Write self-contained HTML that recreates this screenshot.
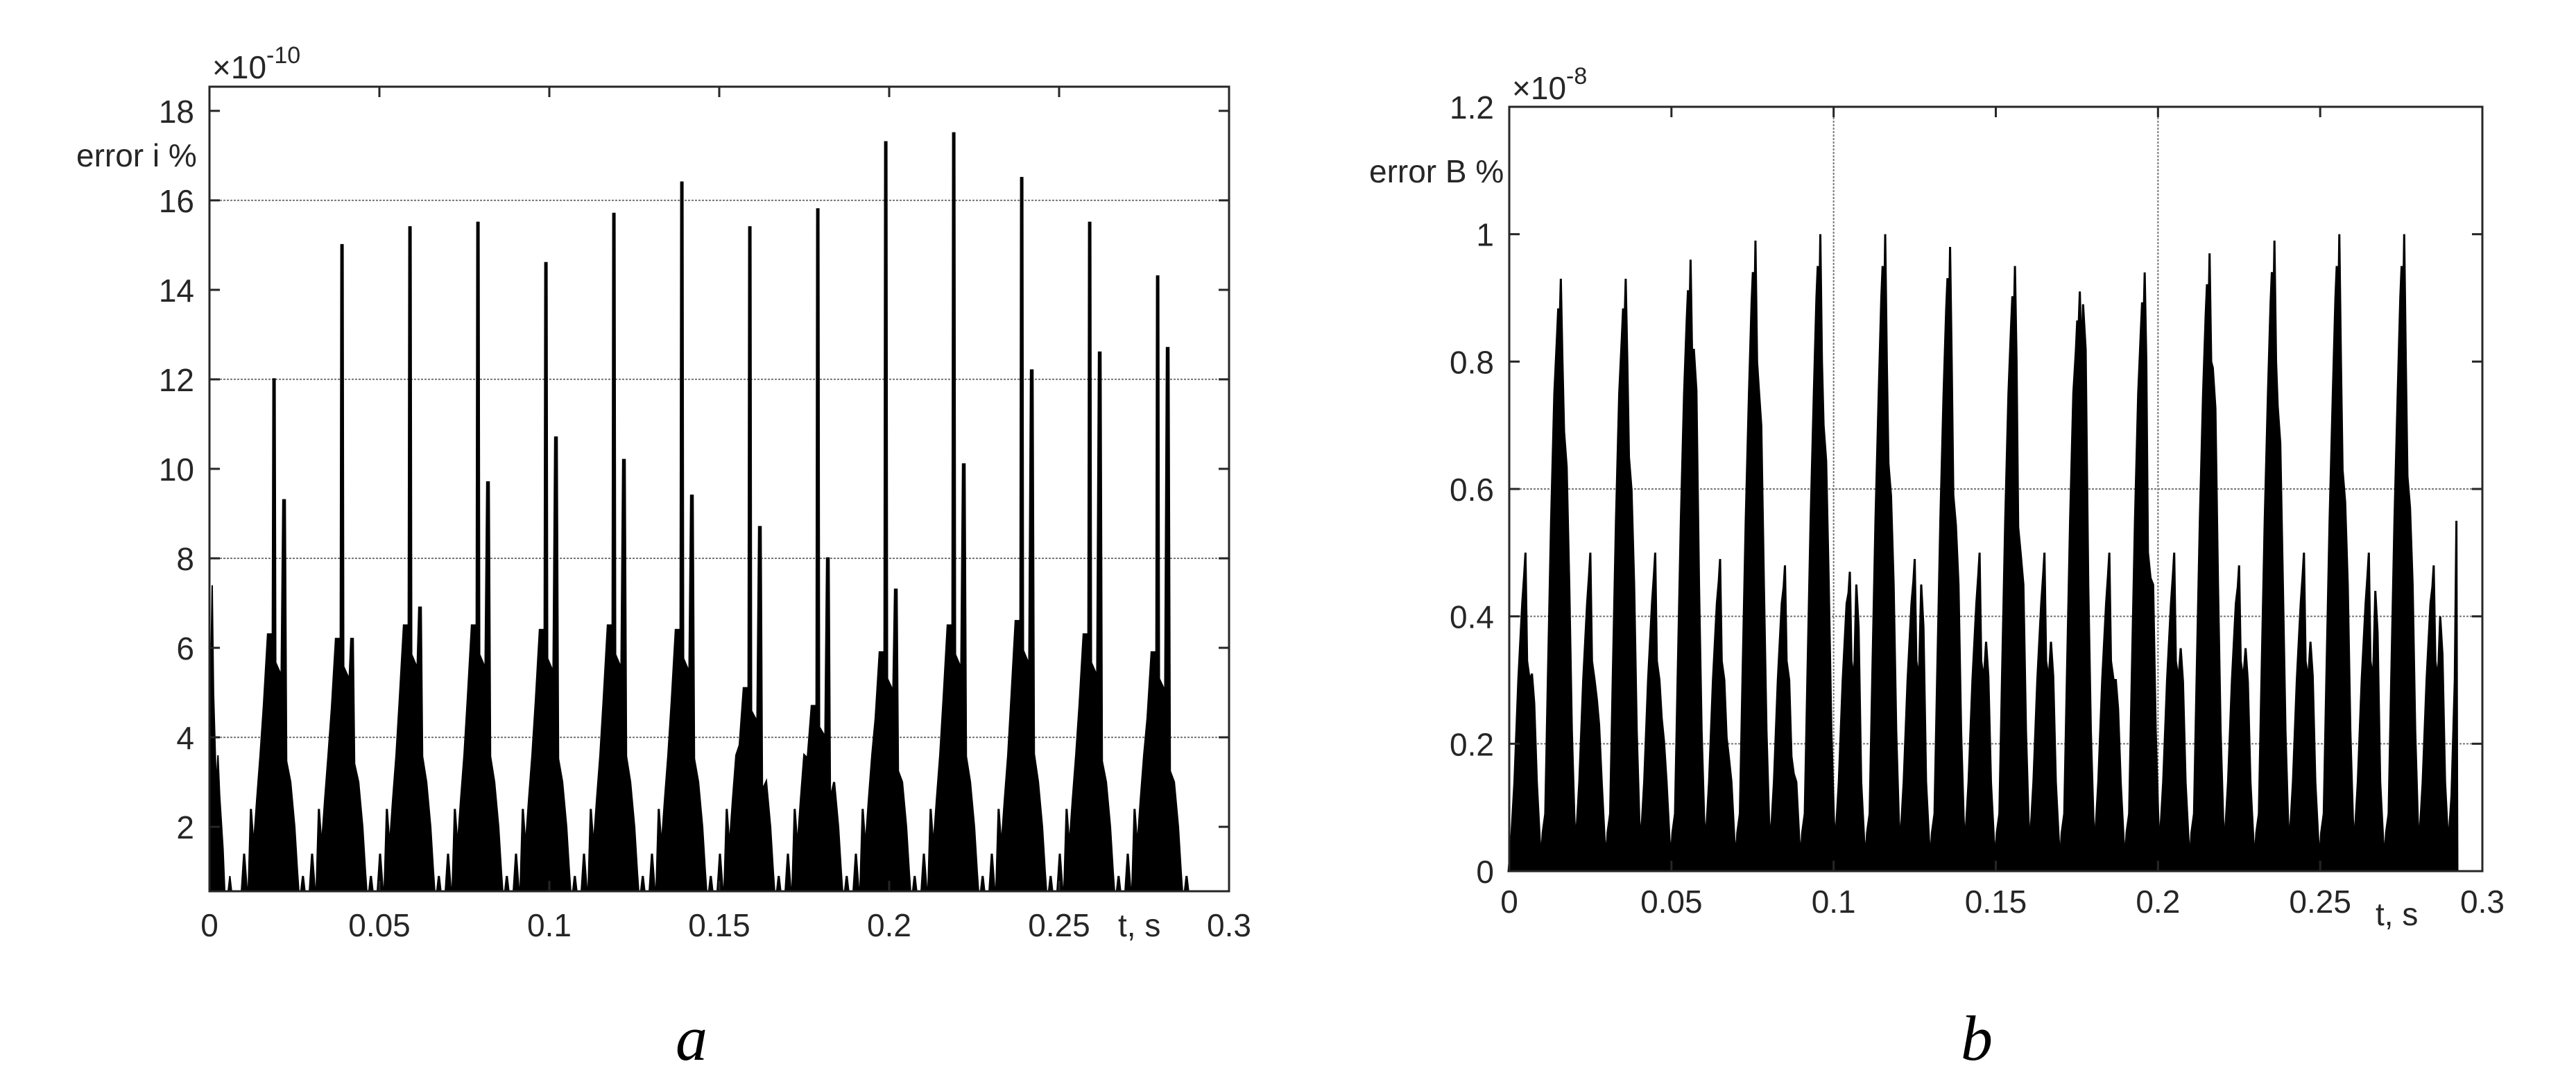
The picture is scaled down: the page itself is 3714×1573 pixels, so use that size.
<!DOCTYPE html>
<html><head><meta charset="utf-8">
<style>
html,body{margin:0;padding:0;background:#fff;}
svg{display:block;font-family:"Liberation Sans",sans-serif;}
</style></head>
<body>
<svg id="fig" width="3714" height="1573" viewBox="0 0 3714 1573" xmlns="http://www.w3.org/2000/svg">
<rect x="0" y="0" width="3714" height="1573" fill="#fff"/>
<g id="chartA"></g>
<g id="chartB"></g>
<text x="997" y="1528" font-family="Liberation Serif,serif" font-style="italic" font-size="92" text-anchor="middle">a</text>
<text x="2850" y="1528" font-family="Liberation Serif,serif" font-style="italic" font-size="92" text-anchor="middle">b</text>
</svg>
<script>
// ---- Chart A data (x10^-10) ----
const aCenters = [0.019,0.039,0.059,0.079,0.099,0.119,0.139,0.159,0.179,0.199,0.219,0.239,0.259,0.279];
const aPeaks   = [12.0,15.0,15.4,15.5,14.6,15.7,16.4,15.4,15.8,17.3,17.5,16.5,15.5,14.3];
const aSecond  = [9.3,6.2,6.9,9.7,10.7,10.2,9.4,8.7,8.0,7.3,10.1,12.2,12.6,12.7];
const aBody    = [6.3,6.2,6.5,6.5,6.4,6.5,6.4,5.1,4.7,5.9,6.5,6.6,6.3,5.9];
const aFirstPeak = 7.4;
const aYTicks = [2,4,6,8,10,12,14,16,18];
const aXTicks = [0,0.05,0.1,0.15,0.2,0.25,0.3];
const aXLabels = ["0","0.05","0.1","0.15","0.2","0.25","0.3"];
const aGrid = [4,8,12,16];

// ---- Chart B data (x10^-8) ----
const bBigCenters = [0.0155,0.0355,0.0555,0.0755,0.0955,0.1155,0.1355,0.1555,0.1755,0.1955,0.2155,0.2355,0.2555,0.2755];
const bBigPeaks   = [0.93,0.93,0.96,0.99,1.00,1.00,0.98,0.95,0.91,0.94,0.97,0.99,1.00,1.00];
const bBigShoulder= [0.69,0.65,0.82,0.76,0.70,0.64,0.59,0.54,0.89,0.50,0.79,0.73,0.63,0.62];
const bSmallCenters = [0.005,0.025,0.045,0.065,0.085,0.105,0.125,0.145,0.165,0.185,0.205,0.225,0.245,0.265,0.285];
const bSmallPeaks   = [0.50,0.50,0.50,0.49,0.48,0.47,0.49,0.50,0.50,0.50,0.50,0.48,0.50,0.50,0.48];
const bSmallSecond  = [0.31,0.27,0.24,0.21,0.18,0.45,0.45,0.36,0.36,0.30,0.35,0.35,0.36,0.44,0.40];
const bLastT = 0.292, bLastPeak = 0.55;
const bYTicks = [0,0.2,0.4,0.6,0.8,1,1.2];
const bYLabels = ["0","0.2","0.4","0.6","0.8","1","1.2"];
const bXTicks = [0,0.05,0.1,0.15,0.2,0.25,0.3];
const bXLabels = ["0","0.05","0.1","0.15","0.2","0.25","0.3"];
const bGridY = [0.2,0.4,0.6];
const bGridX = [0.1,0.2];

const NS = "http://www.w3.org/2000/svg";
function mk(parent, tag, attrs){ const e=document.createElementNS(NS,tag); for(const k in attrs) e.setAttribute(k,attrs[k]); parent.appendChild(e); return e; }

function axes(g, L, R, T, B, xs, ys, xTicks, xLabels, yTicks, yLabels, xLabY){
  xTicks.forEach((v,i)=>{
    const x=xs(v);
    if(i>0 && i<xTicks.length-1){
      const t1=mk(g,'line',{x1:x,y1:B,x2:x,y2:B-15,stroke:'#262626','stroke-width':3});
       
      const t2=mk(g,'line',{x1:x,y1:T,x2:x,y2:T+15,stroke:'#262626','stroke-width':3});
       
    }
    const tx=mk(g,'text',{x:x,y:xLabY,'font-size':46,'text-anchor':'middle',fill:'#262626'});
    tx.textContent=xLabels[i];
     
  });
  yTicks.forEach((v,i)=>{
    const y=ys(v);
    if(y>T+2 && y<B-2){
      const t1=mk(g,'line',{x1:L,y1:y,x2:L+15,y2:y,stroke:'#262626','stroke-width':3});
       
      const t2=mk(g,'line',{x1:R,y1:y,x2:R-15,y2:y,stroke:'#262626','stroke-width':3});
       
    }
    const ty=mk(g,'text',{x:L-22,y:y+17,'font-size':46,'text-anchor':'end',fill:'#262626'});
    ty.textContent=yLabels[i];
     
  });
  const box=mk(g,'rect',{x:L,y:T,width:R-L,height:B-T,fill:'none',stroke:'#262626','stroke-width':3});
   
}

// ===== Chart A =====
(function(){
  const g=document.getElementById('chartA');
  const L=302,R=1772,T=125,B=1285, y0=0.56,y1=18.54;
  const xs=t=>L+(t/0.3)*(R-L);
  const ys=v=>B-(v-y0)/(y1-y0)*(B-T);
  aGrid.forEach(v=>{
    const l=mk(g,'line',{x1:L,y1:ys(v),x2:R,y2:ys(v),stroke:'#777','stroke-width':2,'stroke-dasharray':'3,2'});
     
  });
  const fl=y0;
  let p=[[0,fl],[0,3.5],[0.0008,aFirstPeak],[0.0012,5],[0.002,2.9],[0.0025,3.6],[0.003,2.7],[0.004,1.5],[0.0045,fl],[0.0055,fl],[0.006,0.9],[0.0065,fl]];
  const pa=mk(g,'polygon',{points:p.map(q=>xs(q[0])+','+ys(q[1])).join(' '),fill:'#000',stroke:'#000','stroke-width':2});
   
  aCenters.forEach((c,i)=>{
    const bd=aBody[i], pk=aPeaks[i], s=aSecond[i];
    const pts=[[c-0.0095,fl],[c-0.0088,1.4],[c-0.008,fl],[c-0.0075,fl],[c-0.0068,2.4],[c-0.006,1.5],[c-0.005,2.6],[c-0.004,3.6],[c-0.003,bd*0.75],[c-0.0018,bd],
      [c-0.0004,bd],[c-0.0002,pk],[c+0.0002,pk],[c+0.0004,bd*0.9],[c+0.0022,bd*0.85],[c+0.0027,s],[c+0.0032,s],[c+0.0036,bd*0.55],
      [c+0.0048,3.0],[c+0.006,2.0],[c+0.0068,1.0],[c+0.0072,fl],[c+0.008,fl],[c+0.0085,0.9],[c+0.009,fl]];
    const poly=mk(g,'polygon',{points:pts.map(q=>xs(q[0])+','+ys(Math.max(fl,q[1]))).join(' '),fill:'#000',stroke:'#000','stroke-width':3});
     
  });
  axes(g,L,R,T,B,xs,ys,aXTicks,aXLabels,aYTicks,aYTicks.map(String),1350);
  const m=mk(g,'text',{x:306,y:113,'font-size':46,fill:'#262626'}); m.innerHTML='×10<tspan dy="-22" font-size="34">-10</tspan>';
   
  const yl=mk(g,'text',{x:110,y:240,'font-size':46,fill:'#262626'}); yl.textContent='error i %';
   
  const xl=mk(g,'text',{x:1612,y:1350,'font-size':46,fill:'#262626'}); xl.textContent='t, s';
   
})();

// ===== Chart B =====
(function(){
  const g=document.getElementById('chartB');
  const L=2176,R=3579,T=154,B=1256, y0=0,y1=1.2;
  const xs=t=>L+(t/0.3)*(R-L);
  const ys=v=>B-(v-y0)/(y1-y0)*(B-T);
  bGridY.forEach(v=>{
    const l=mk(g,'line',{x1:L,y1:ys(v),x2:R,y2:ys(v),stroke:'#777','stroke-width':2,'stroke-dasharray':'3,2'});
     
  });
  bGridX.forEach(v=>{
    const l=mk(g,'line',{x1:xs(v),y1:T,x2:xs(v),y2:B,stroke:'#777','stroke-width':2,'stroke-dasharray':'3,2'});
     
  });
  bBigCenters.forEach((c,i)=>{
    const pk=bBigPeaks[i], sh=bBigShoulder[i];
    const pts=[[c-0.0058,0],[c-0.0052,0.06],[c-0.0044,0.09],[c-0.0036,0.3],[c-0.0026,0.55],[c-0.0016,0.75],[c-0.0008,pk*0.9],[c-0.0004,pk*0.95],[c,0.85],[c+0.0004,pk],[c+0.0009,0.8],
      [c+0.0014,sh],[c+0.0022,sh*0.92],[c+0.003,0.45],[c+0.0038,0.22],[c+0.0046,0.08],[c+0.0056,0]];
    const poly=mk(g,'polygon',{points:pts.map(q=>xs(q[0])+','+ys(q[1])).join(' '),fill:'#000',stroke:'#000','stroke-width':3});
     
  });
  bSmallCenters.forEach((c,i)=>{
    const pk=bSmallPeaks[i], s=bSmallSecond[i];
    const pts=[[c-0.0052,0],[c-0.0044,0.05],[c-0.0034,0.14],[c-0.0022,0.3],[c-0.001,0.42],[c-0.0004,pk*0.93],[c,pk],[c+0.0005,0.33],[c+0.0013,0.3],
      [c+0.002,s],[c+0.0027,s*0.85],[c+0.0035,0.14],[c+0.0044,0.05],[c+0.0052,0]];
    const poly=mk(g,'polygon',{points:pts.map(q=>xs(q[0])+','+ys(q[1])).join(' '),fill:'#000',stroke:'#000','stroke-width':3});
     
  });
  const lp=[[bLastT-0.003,0],[bLastT-0.0015,0.12],[bLastT-0.0005,0.3],[bLastT,bLastPeak],[bLastT+0.0002,0.15],[bLastT+0.0003,0]];
  const lpoly=mk(g,'polygon',{points:lp.map(q=>xs(q[0])+','+ys(q[1])).join(' '),fill:'#000',stroke:'#000','stroke-width':3});
   
  axes(g,L,R,T,B,xs,ys,bXTicks,bXLabels,bYTicks,bYLabels,1316);
  const m=mk(g,'text',{x:2180,y:143,'font-size':46,fill:'#262626'}); m.innerHTML='×10<tspan dy="-22" font-size="34">-8</tspan>';
   
  const yl=mk(g,'text',{x:1974,y:263,'font-size':46,fill:'#262626'}); yl.textContent='error B %';
   
  const xl=mk(g,'text',{x:3425,y:1334,'font-size':46,fill:'#262626'}); xl.textContent='t, s';
   
})();
</script>
</body></html>
